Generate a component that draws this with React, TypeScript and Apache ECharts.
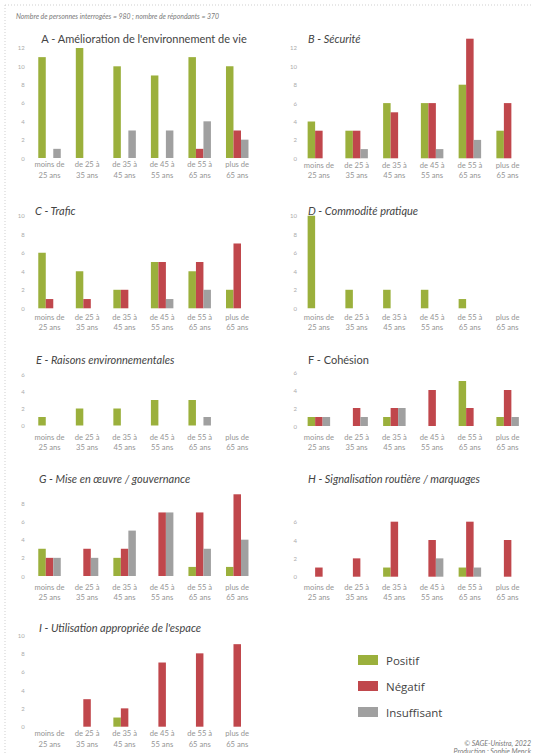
import React, { useEffect, useRef } from "react";
import * as echarts from "echarts";

const categories = [
  "moins de\n25 ans",
  "de 25 à\n35 ans",
  "de 35 à\n45 ans",
  "de 45 à\n55 ans",
  "de 55 à\n65 ans",
  "plus de\n65 ans",
];
const seriesNames = ["Positif", "Négatif", "Insuffisant"];
const seriesColors = ["#9bb03c", "#c0474c", "#a0a0a0"];

const headerText = "Nombre de personnes interrogées = 980 ; nombre de répondants = 370";
const creditLines = ["© SAGE-Unistra, 2022", "Production : Sophie Menck"];

const panelTitles = [
  "A - Amélioration de l'environnement de vie",
  "B - Sécurité",
  "C - Trafic",
  "D - Commodité pratique",
  "E - Raisons environnementales",
  "F - Cohésion",
  "G - Mise en œuvre / gouvernance",
  "H - Signalisation routière / marquages",
  "I - Utilisation appropriée de l'espace",
];

// values: [Positif, Négatif, Insuffisant] per age group
const aPositif = [11, 12, 10, 9, 11, 10];
const aNegatif = [0, 0, 0, 0, 1, 3];
const aInsuffisant = [1, 0, 3, 3, 4, 2];

const bPositif = [4, 3, 6, 6, 8, 3];
const bNegatif = [3, 3, 5, 6, 13, 6];
const bInsuffisant = [0, 1, 0, 1, 2, 0];

const cPositif = [6, 4, 2, 5, 4, 2];
const cNegatif = [1, 1, 2, 5, 5, 7];
const cInsuffisant = [0, 0, 0, 1, 2, 0];

const dPositif = [10, 2, 2, 2, 1, 0];
const dNegatif = [0, 0, 0, 0, 0, 0];
const dInsuffisant = [0, 0, 0, 0, 0, 0];

const ePositif = [1, 2, 2, 3, 3, 0];
const eNegatif = [0, 0, 0, 0, 0, 0];
const eInsuffisant = [0, 0, 0, 0, 1, 0];

const fPositif = [1, 0, 1, 0, 5, 1];
const fNegatif = [1, 2, 2, 4, 2, 4];
const fInsuffisant = [1, 1, 2, 0, 0, 1];

const gPositif = [3, 0, 2, 0, 1, 1];
const gNegatif = [2, 3, 3, 7, 7, 9];
const gInsuffisant = [2, 2, 5, 7, 3, 4];

const hPositif = [0, 0, 1, 0, 1, 0];
const hNegatif = [1, 2, 6, 4, 6, 4];
const hInsuffisant = [0, 0, 0, 2, 1, 0];

const iPositif = [0, 0, 1, 0, 0, 0];
const iNegatif = [0, 3, 2, 7, 8, 9];
const iInsuffisant = [0, 0, 0, 0, 0, 0];

const panelData = [
  [aPositif, aNegatif, aInsuffisant],
  [bPositif, bNegatif, bInsuffisant],
  [cPositif, cNegatif, cInsuffisant],
  [dPositif, dNegatif, dInsuffisant],
  [ePositif, eNegatif, eInsuffisant],
  [fPositif, fNegatif, fInsuffisant],
  [gPositif, gNegatif, gInsuffisant],
  [hPositif, hNegatif, hInsuffisant],
  [iPositif, iNegatif, iInsuffisant],
];

// layout (pixels): column, y of zero, pixels per unit, axis max, label margin, title placement
const panelLayout = [
  { col: 0, y0: 158, ppu: 9.17, max: 12, lm: 1, tx: 144, ty: 38, align: "center", italic: false },
  { col: 1, y0: 158.3, ppu: 9.2, max: 13, lm: 1, tx: 308, ty: 38, align: "left", italic: true },
  { col: 0, y0: 308.3, ppu: 9.26, max: 10, lm: 3, tx: 35, ty: 210, align: "left", italic: true },
  { col: 1, y0: 308.3, ppu: 9.26, max: 10, lm: 3, tx: 308, ty: 210, align: "left", italic: true },
  { col: 0, y0: 425.5, ppu: 8.5, max: 6, lm: 6, tx: 36, ty: 359, align: "left", italic: true },
  { col: 1, y0: 426, ppu: 9, max: 6, lm: 5.5, tx: 308, ty: 359, align: "left", italic: false },
  { col: 0, y0: 576, ppu: 9.08, max: 9, lm: 5.5, tx: 39, ty: 478, align: "left", italic: true },
  { col: 1, y0: 576.7, ppu: 9.17, max: 6, lm: 5, tx: 308, ty: 478, align: "left", italic: true },
  { col: 0, y0: 726.7, ppu: 9.17, max: 10, lm: 1.5, tx: 39, ty: 627, align: "left", italic: true },
];
const columnX = [
  { left: 30.75, right: 256 },
  { left: 300, right: 526.5 },
];

const W = 533;
const H = 753;
const FONT = "Lato, 'Open Sans', sans-serif";

export default function App() {
  const ref = useRef<HTMLDivElement>(null);

  useEffect(() => {
    if (!ref.current) return;
    const chart = echarts.init(ref.current, undefined, { renderer: "svg" });

    const grid: any[] = [];
    const xAxis: any[] = [];
    const yAxis: any[] = [];
    const series: any[] = [];
    const graphic: any[] = [];

    panelLayout.forEach((p, i) => {
      const cx = columnX[p.col];
      const top = p.y0 - p.max * p.ppu;
      grid.push({
        left: cx.left,
        width: cx.right - cx.left,
        top,
        height: p.y0 - top,
        containLabel: false,
      });
      xAxis.push({
        type: "category",
        gridIndex: i,
        data: categories,
        axisLine: { show: false },
        axisTick: { show: false },
        splitLine: { show: false },
        axisLabel: {
          interval: 0,
          fontSize: 7.6,
          lineHeight: 10.5,
          color: "#959595",
          fontFamily: FONT,
          margin: p.lm,
        },
      });
      yAxis.push({
        type: "value",
        gridIndex: i,
        min: 0,
        max: p.max,
        interval: 2,
        axisLine: { show: false },
        axisTick: { show: false },
        splitLine: { show: false },
        axisLabel: {
          fontSize: 6,
          color: "#ababab",
          fontFamily: FONT,
          margin: p.col === 0 ? 6 : 3,
          showMaxLabel: p.max % 2 === 0,
        },
      });
      panelData[i].forEach((vals, s) => {
        series.push({
          type: "bar",
          name: seriesNames[s],
          xAxisIndex: i,
          yAxisIndex: i,
          data: vals,
          barWidth: 7.5,
          barGap: "0%",
          itemStyle: { color: seriesColors[s] },
          emphasis: { disabled: true },
        });
      });
      graphic.push({
        type: "text",
        x: p.tx,
        y: p.ty,
        style: {
          text: panelTitles[i],
          fill: "#444444",
          fontSize: 11,
          fontFamily: FONT,
          fontStyle: p.italic ? "italic" : "normal",
          align: p.align,
          verticalAlign: "middle",
        },
      });
    });

    graphic.push(
      {
        type: "line",
        shape: { x1: 5, y1: 5, x2: W, y2: 5 },
        style: { stroke: "#cfcfcf", lineWidth: 1, lineDash: [1, 2] },
      },
      {
        type: "line",
        shape: { x1: 5, y1: 5, x2: 5, y2: H },
        style: { stroke: "#cfcfcf", lineWidth: 1, lineDash: [1, 2] },
      },
      {
        type: "text",
        x: 16,
        y: 15.5,
        style: {
          text: headerText,
          fill: "#7a7a7a",
          fontSize: 6.9,
          fontFamily: FONT,
          fontStyle: "italic",
          align: "left",
          verticalAlign: "middle",
        },
      },
      {
        type: "text",
        x: 531,
        y: 742.5,
        style: {
          text: creditLines[0],
          fill: "#7a7a7a",
          fontSize: 7,
          fontFamily: FONT,
          fontStyle: "italic",
          align: "right",
          verticalAlign: "middle",
        },
      },
      {
        type: "text",
        x: 531,
        y: 750.5,
        style: {
          text: creditLines[1],
          fill: "#7a7a7a",
          fontSize: 7,
          fontFamily: FONT,
          fontStyle: "italic",
          align: "right",
          verticalAlign: "middle",
        },
      }
    );

    chart.setOption({
      animation: false,
      backgroundColor: "#ffffff",
      textStyle: { fontFamily: FONT },
      grid,
      xAxis,
      yAxis,
      series,
      graphic,
      legend: {
        data: seriesNames,
        orient: "vertical",
        left: 358,
        top: 654,
        itemWidth: 20,
        itemHeight: 10,
        itemGap: 14,
        icon: "rect",
        padding: 0,
        selectedMode: false,
        textStyle: {
          fontSize: 11.5,
          color: "#444444",
          fontFamily: "'Open Sans', Lato, sans-serif",
          padding: [0, 0, 0, 3],
        },
      },
    });

    return () => chart.dispose();
  }, []);

  return (
    <div
      ref={ref}
      style={{ position: "fixed", left: 0, top: 0, width: W, height: H, background: "#fff" }}
    />
  );
}
